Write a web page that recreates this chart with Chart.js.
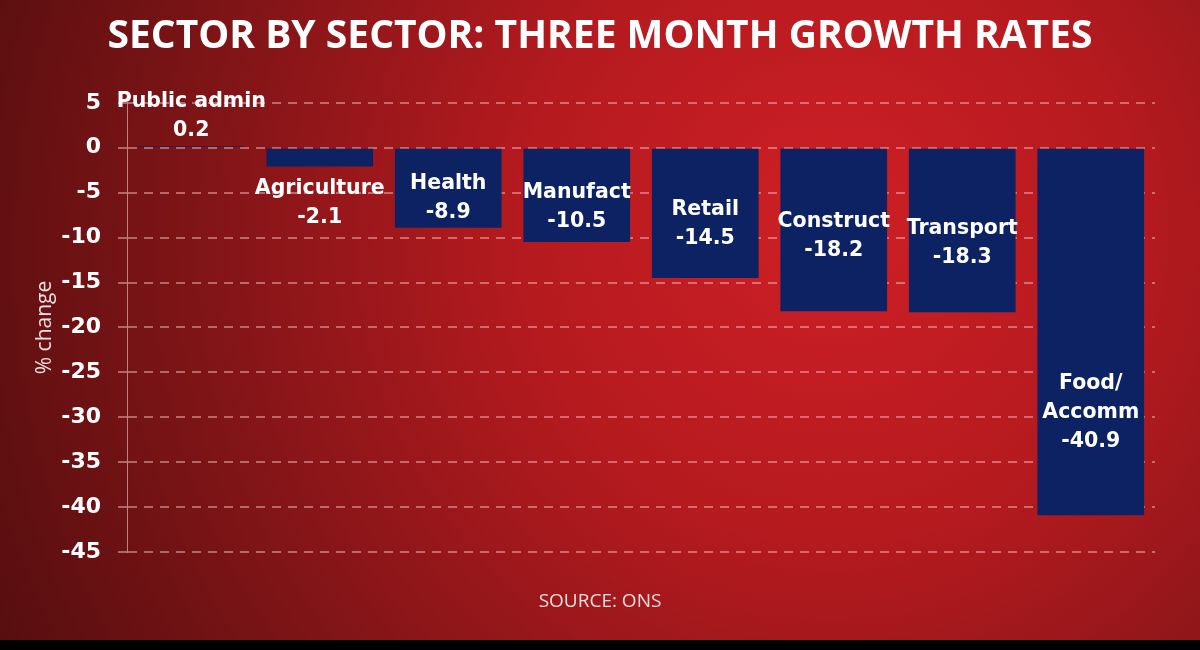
<!DOCTYPE html>
<html>
<head>
<meta charset="utf-8">
<script src="https://cdn.jsdelivr.net/npm/chart.js@4"></script>
<style>
  html, body { margin: 0; padding: 0; background: #000; }
  #wrap { width: 1200px; height: 650px; }
</style>
</head>
<body>
<div id="wrap"><canvas id="myChart" width="1200" height="650"></canvas></div>
<script>
// Sector names and three month growth (% change)
const sectors = ['Public admin', 'Agriculture', 'Health', 'Manufact', 'Retail', 'Construct', 'Transport', 'Food/\nAccomm'];
const growth = [0.2, -2.1, -8.9, -10.5, -14.5, -18.2, -18.3, -40.9];
const yTicks = [5, 0, -5, -10, -15, -20, -25, -30, -35, -40, -45];

// where the first line of each label sits, in axis units
const labelAt = [5.1, -4.55, -4.05, -4.95, -6.85, -8.2, -9.0, -26.3];

const bg = {
    id: 'bg',
    beforeDraw(chart) {
        const ctx = chart.ctx;
        ctx.save();
        const g = ctx.createRadialGradient(830, 220, 20, 830, 260, 1000);
        g.addColorStop(0, '#cc1f25');
        g.addColorStop(0.3, '#b41a1f');
        g.addColorStop(0.65, '#7c1416');
        g.addColorStop(1, '#4a0c0d');
        ctx.fillStyle = g;
        ctx.fillRect(0, 0, 1200, 650);
        ctx.fillStyle = '#000';
        ctx.fillRect(0, 640, 1200, 10);
        ctx.restore();
    }
};

const barLabels = {
    id: 'barLabels',
    afterDatasetsDraw(chart) {
        const ctx = chart.ctx;
        const meta = chart.getDatasetMeta(0);
        const y = chart.scales.y;
        ctx.save();
        ctx.fillStyle = '#ffffff';
        ctx.font = 'bold 20.5px "DejaVu Sans"';
        ctx.textAlign = 'center';
        ctx.textBaseline = 'middle';
        meta.data.forEach((bar, i) => {
            const lines = sectors[i].split('\n').concat([growth[i].toFixed(1)]);
            const top = y.getPixelForValue(labelAt[i]);
            lines.forEach((t, k) => {
                ctx.fillText(t, bar.x, top + k * 29);
            });
        });
        ctx.restore();
    }
};

const data = {
    labels: sectors,
    datasets: [{
        label: '% change',
        data: growth,
        backgroundColor: '#0c2263',
        borderWidth: 0,
        barPercentage: 0.83,
        categoryPercentage: 1.0,
    }]
};

const config = {
    type: 'bar',
    data: data,
    plugins: [bg, barLabels],
    options: {
        responsive: false,
        animation: false,
        layout: { padding: 0 },
        plugins: {
            legend: { display: false },
            tooltip: { enabled: false },
            title: {
                display: true,
                text: 'SECTOR BY SECTOR: THREE MONTH GROWTH RATES',
                color: '#ffffff',
                font: { family: '"Open Sans"', size: 39, weight: 'bold', lineHeight: 1.2 },
                padding: { top: 13, bottom: 43 }
            },
            subtitle: {
                display: true,
                position: 'bottom',
                text: 'SOURCE: ONS',
                color: '#ecdcdc',
                font: { family: '"Open Sans"', size: 19, weight: 'normal', lineHeight: 1.2 },
                padding: { top: 38, bottom: 37 }
            }
        },
        scales: {
            x: {
                display: false,
                offset: true,
                grid: { display: false }
            },
            y: {
                min: -45,
                max: 5,
                afterBuildTicks(scale) {
                    scale.ticks = yTicks.map(v => ({ value: v }));
                },
                afterFit(scale) { scale.width = 127; },
                ticks: {
                    color: '#ffffff',
                    font: { family: '"DejaVu Sans"', size: 22, weight: 'bold' },
                    padding: 17
                },
                grid: {
                    color: 'rgba(255, 205, 205, 0.45)',
                    lineWidth: 2,
                    tickLength: 9,
                    tickBorderDash: [9, 7],
                    drawOnChartArea: true
                },
                border: {
                    display: true,
                    color: 'rgba(255, 220, 220, 0.55)',
                    width: 1,
                    dash: [9, 7]
                },
                title: {
                    display: true,
                    text: '% change',
                    color: '#f2dede',
                    font: { family: '"Open Sans"', size: 21, weight: 'normal' },
                    padding: { top: 32, bottom: 0 }
                }
            },
            // empty right-hand strip so the plot ends where the reference does
            yRight: {
                position: 'right',
                display: true,
                afterFit(scale) { scale.width = 45; },
                ticks: { display: false },
                grid: { display: false, drawOnChartArea: false },
                border: { display: false }
            }
        }
    }
};

const myChart = new Chart(
    document.getElementById('myChart'),
    config
);
</script>
</body>
</html>
